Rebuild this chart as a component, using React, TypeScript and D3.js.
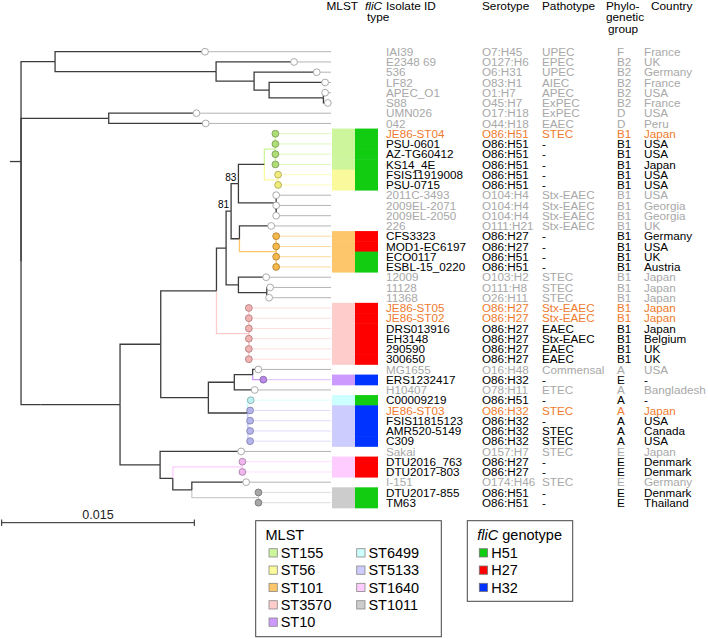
import React from "react";
import * as d3 from "d3";

// ---------- DATA ----------
const isolateIds = [
  "IAI39", "E2348 69", "536", "LF82", "APEC_O1", "S88", "UMN026", "042",
  "JE86-ST04", "PSU-0601", "AZ-TG60412", "KS14_4E", "FSIS11919008", "PSU-0715",
  "2011C-3493", "2009EL-2071", "2009EL-2050", "226",
  "CFS3323", "MOD1-EC6197", "ECO0117", "ESBL-15_0220",
  "12009", "11128", "11368",
  "JE86-ST05", "JE86-ST02", "DRS013916", "EH3148", "290590", "300650",
  "MG1655", "ERS1232417", "H10407", "C00009219", "JE86-ST03", "FSIS11815123",
  "AMR520-5149", "C309", "Sakai", "DTU2016_763", "DTU2017-803", "I-151",
  "DTU2017-855", "TM63",
];
const serotypes = [
  "O7:H45", "O127:H6", "O6:H31", "O83:H1", "O1:H7", "O45:H7", "O17:H18", "O44:H18",
  "O86:H51", "O86:H51", "O86:H51", "O86:H51", "O86:H51", "O86:H51",
  "O104:H4", "O104:H4", "O104:H4", "O111:H21",
  "O86:H27", "O86:H27", "O86:H51", "O86:H51",
  "O103:H2", "O111:H8", "O26:H11",
  "O86:H27", "O86:H27", "O86:H27", "O86:H27", "O86:H27", "O86:H27",
  "O16:H48", "O86:H32", "O78:H11", "O86:H51", "O86:H32", "O86:H32",
  "O86:H32", "O86:H32", "O157:H7", "O86:H27", "O86:H27", "O174:H46",
  "O86:H51", "O86:H51",
];
const pathotypes = [
  "UPEC", "EPEC", "UPEC", "AIEC", "APEC", "ExPEC", "ExPEC", "EAEC",
  "STEC", "-", "-", "-", "-", "-",
  "Stx-EAEC", "Stx-EAEC", "Stx-EAEC", "Stx-EAEC",
  "-", "-", "-", "-",
  "STEC", "STEC", "STEC",
  "Stx-EAEC", "Stx-EAEC", "EAEC", "Stx-EAEC", "EAEC", "EAEC",
  "Commensal", "-", "ETEC", "-", "STEC", "-",
  "STEC", "STEC", "STEC", "-", "-", "STEC",
  "-", "-",
];
const phyloGroups = [
  "F", "B2", "B2", "B2", "B2", "B2", "D", "D",
  "B1", "B1", "B1", "B1", "B1", "B1",
  "B1", "B1", "B1", "B1",
  "B1", "B1", "B1", "B1",
  "B1", "B1", "B1",
  "B1", "B1", "B1", "B1", "B1", "B1",
  "A", "E", "A", "A", "A", "A",
  "A", "A", "E", "E", "E", "E",
  "E", "E",
];
const countries = [
  "France", "UK", "Germany", "France", "USA", "France", "USA", "Peru",
  "Japan", "USA", "USA", "Japan", "USA", "USA",
  "USA", "Georgia", "Georgia", "UK",
  "Germany", "USA", "UK", "Austria",
  "Japan", "Japan", "Japan",
  "Japan", "Japan", "Japan", "Belgium", "UK", "UK",
  "USA", "-", "Bangladesh", "-", "Japan", "USA",
  "Canada", "USA", "Japan", "Denmark", "Denmark", "Germany",
  "Denmark", "Thailand",
];
const mlstTypes = [
  "", "", "", "", "", "", "", "",
  "ST155", "ST155", "ST155", "ST155", "ST56", "ST56",
  "", "", "", "",
  "ST101", "ST101", "ST101", "ST101",
  "", "", "",
  "ST3570", "ST3570", "ST3570", "ST3570", "ST3570", "ST3570",
  "", "ST10", "", "ST6499", "ST5133", "ST5133",
  "ST5133", "ST5133", "", "ST1640", "ST1640", "",
  "ST1011", "ST1011",
];
// ref = reference strain (grey), new = this study (orange), db = database O86 (black)
const rowStatus = [
  "ref", "ref", "ref", "ref", "ref", "ref", "ref", "ref",
  "new", "db", "db", "db", "db", "db",
  "ref", "ref", "ref", "ref",
  "db", "db", "db", "db",
  "ref", "ref", "ref",
  "new", "new", "db", "db", "db", "db",
  "ref", "db", "ref", "db", "new", "db",
  "db", "db", "ref", "db", "db", "ref",
  "db", "db",
];

// Tree (Newick, branch lengths in substitutions/site, internal labels = bootstrap)
const treeNewick =
  "((IAI39:0.01168,(E2348 69:0.00607,(536:0.00488,(LF82:0.00436,(APEC_O1:0.00013,S88:0.00034):0.00423):0.00117):0.00296):0.01254):0.00265," +
  "((UMN026:0.00683,042:0.00755):0.00683," +
  "((" +
  "(((((((JE86-ST04:0,PSU-0601:0,AZ-TG60412:0,KS14_4E:0):0.00086,(FSIS11919008:0,PSU-0715:0):0.00107):0.00202," +
  "(2011C-3493:0,(2009EL-2071:0,2009EL-2050:0):0):0.00294)83:0.00057," +
  "(226:0.00247,(CFS3323:0,MOD1-EC6197:0,ECO0117:0,ESBL-15_0220:0):0.00286):0.00065)81:0.00039," +
  "(12009:0.00216,(11128:0.00026,11368:0.00018):0.00221):0.00096):0.00075," +
  "(JE86-ST05:0,JE86-ST02:0,DRS013916:0,EH3148:0,290590:0,300650:0):0.00252):0.00434," +
  "(((MG1655:0.00044,ERS1232417:0.00083):0.00143,H10407:0.00159):0.00202," +
  "(C00009219:0.00026,(JE86-ST03:0.00017,FSIS11815123:0.00017,AMR520-5149:0.00017,C309:0.00017):0.00004):0.00304):0.00371" +
  "):0.00317," +
  "(Sakai:0.00631,((DTU2016_763:0,DTU2017-803:0):0.00542,(I-151:0.00423,(DTU2017-855:0,TM63:0):0.00519):0.00148):0.00099):0.00312" +
  "):0.00621):0.00150);";
const rootBranch = 0.00086;
const scaleBarValue = 0.015;

const mlstLegend = ["ST155", "ST56", "ST101", "ST3570", "ST10", "ST6499", "ST5133", "ST1640", "ST1011"];
const mlstCellColors = ["#ccf59c", "#fafa9c", "#fdc66a", "#ffcccc", "#cc99ff", "#ccffff", "#ccccff", "#ffccff", "#cccccc"];
const mlstDotColors = ["#aedd78", "#f0ec7a", "#f5b84a", "#f3b3b3", "#b98ae8", "#bdf0f0", "#b6b6ee", "#f0b6ee", "#a6a6a6"];
const fliCLegend = ["H51", "H27", "H32"];
const fliCColors = ["#11cc11", "#ff0000", "#0033ff"];

const headerCols = [
  { lines: ["Isolate ID"], x: 386 },
  { lines: ["Serotype"], x: 482 },
  { lines: ["Pathotype"], x: 542 },
  { lines: ["Phylo-", "genetic", "group"], x: 606 },
  { lines: ["Country"], x: 651 },
];

// ---------- TREE PARSING ----------
type TNode = { name: string; length: number; children?: TNode[] };
function parseNewick(s: string): TNode {
  let i = 0;
  function node(): TNode {
    const n: TNode = { name: "", length: 0 };
    if (s[i] === "(") {
      i++;
      n.children = [];
      for (;;) {
        n.children.push(node());
        if (s[i] === ",") { i++; continue; }
        if (s[i] === ")") { i++; break; }
        break;
      }
    }
    let name = "";
    while (i < s.length && !",():;".includes(s[i])) name += s[i++];
    n.name = name.trim();
    if (s[i] === ":") {
      i++;
      let num = "";
      while (i < s.length && !",();".includes(s[i])) num += s[i++];
      n.length = parseFloat(num);
    }
    return n;
  }
  return node();
}

const FONT = "'Liberation Sans', Arial, Helvetica, sans-serif";
const DARK = "#3c3c3c";
const TXT: Record<string, string> = { ref: "#a8a8a8", new: "#ef7b2e", db: "#000000" };

export default function App() {
  const W = 708, H = 639;
  const xScale = d3.scaleLinear().domain([0, scaleBarValue]).range([10, 202.6]);
  const yScale = d3.scaleLinear().domain([0, isolateIds.length - 1]).range([51.7, 502.7]);
  const step = yScale(1) - yScale(0);
  const tipEnd = 331;
  const colMlst = 332, colFli = 355, colW = 23;

  const mlstIdx = (t: string) => mlstLegend.indexOf(t);

  const root = d3.hierarchy(parseNewick(treeNewick)) as any;
  root.eachBefore((n: any) => {
    n.dist = (n.parent ? n.parent.dist : rootBranch) + n.data.length;
    n.px = xScale(n.dist);
  });
  root.eachAfter((n: any) => {
    if (n.children) {
      n.py = (n.children[0].py + n.children[n.children.length - 1].py) / 2;
      const g = n.children.map((c: any) => c.group);
      n.group = g.every((v: string) => v && v === g[0]) ? g[0] : "";
    } else {
      const idx = isolateIds.indexOf(n.data.name);
      n.row = idx;
      n.py = yScale(idx);
      n.group = mlstTypes[idx];
    }
  });

  const branchColor = (g: string) => (g ? mlstCellColors[mlstIdx(g)] : DARK);
  const nodes = root.descendants();
  const leaves = root.leaves();

  const branches: any[] = [];
  nodes.forEach((n: any) => {
    if (!n.parent) return;
    const p = n.parent;
    branches.push({ key: "v" + branches.length, d: `M${p.px},${p.py}V${n.py}H${n.px}`, color: branchColor(n.group), colored: !!n.group });
  });
  branches.sort((a, b) => (a.colored === b.colored ? 0 : a.colored ? -1 : 1));

  const r = 3.4;
  const legendRowsY = [552.7, 570, 587.3, 604.7, 622];

  return (
    <svg width={W} height={H} style={{ position: "absolute", left: 0, top: 0, background: "#fff" }} fontFamily={FONT}>
      <rect x={0} y={0} width={W} height={H} fill="#fff" />
      {/* headers */}
      <g fontSize={11.8} fill="#000">
        <text x={358} y={9.5} textAnchor="end">MLST</text>
        <text x={365} y={9.5} fontStyle="italic">fliC</text>
        <text x={367} y={21}>type</text>
        {headerCols.map((h) =>
          h.lines.map((l, k) => (
            <text key={h.x + l} x={h.x + (l === "group" ? 2 : 0)} y={9.5 + k * 11.5}>{l}</text>
          ))
        )}
      </g>

      {/* leader lines */}
      {leaders(leaves, r, tipEnd)}

      {/* branches */}
      <path d={`M${xScale(0)},${root.py}H${root.px}`} stroke={DARK} strokeWidth={1.3} fill="none" />
      {branches.map((b) => (
        <path key={b.key} d={b.d} stroke={b.color} strokeWidth={1.3} fill="none" />
      ))}

      {/* bootstrap labels */}
      {nodes.filter((n: any) => n.children && n.data.name).map((n: any, i: number) => (
        <text key={"bs" + i} x={n.px - 2} y={n.py - 3} textAnchor="end" fontSize={10} fill="#000">{n.data.name}</text>
      ))}

      {/* tip circles */}
      {leaves.map((l: any, i: number) => {
        const g = l.group;
        const fill = g ? mlstDotColors[mlstIdx(g)] : "#ffffff";
        const stroke = g ? (d3.color(fill) as any).darker(0.9).formatHex() : "#a0a0a0";
        return <circle key={"c" + i} cx={l.px} cy={l.py} r={r} fill={fill} stroke={stroke} strokeWidth={0.9} />;
      })}

      {/* MLST and fliC cells */}
      {isolateIds.map((id, i) => {
        const m = mlstTypes[i];
        if (!m) return null;
        const h = serotypes[i].split(":")[1];
        const y0 = yScale(i) - step / 2;
        return (
          <g key={"cell" + i}>
            <rect x={colMlst} y={y0} width={colW} height={step + 0.5} fill={mlstCellColors[mlstIdx(m)]} />
            <rect x={colFli} y={y0} width={colW} height={step + 0.5} fill={fliCColors[fliCLegend.indexOf(h)]} />
          </g>
        );
      })}

      {/* table text */}
      <g fontSize={11.7}>
        {isolateIds.map((id, i) => {
          const y = yScale(i) + 4.2;
          const c = TXT[rowStatus[i]];
          return (
            <g key={"t" + i} fill={c}>
              <text x={386} y={y}>{id}</text>
              <text x={482} y={y}>{serotypes[i]}</text>
              <text x={542} y={y}>{pathotypes[i]}</text>
              <text x={617} y={y}>{phyloGroups[i]}</text>
              <text x={644} y={y}>{countries[i]}</text>
            </g>
          );
        })}
      </g>

      {/* scale bar */}
      <g stroke="#222" strokeWidth={1}>
        <line x1={1.7} x2={1.7 + xScale(scaleBarValue) - xScale(0)} y1={522.7} y2={522.7} />
        <line x1={1.7} x2={1.7} y1={519.5} y2={526} />
        <line x1={1.7 + xScale(scaleBarValue) - xScale(0)} x2={1.7 + xScale(scaleBarValue) - xScale(0)} y1={519.5} y2={526} />
      </g>
      <text x={1.7 + (xScale(scaleBarValue) - xScale(0)) / 2} y={519} textAnchor="middle" fontSize={12.5} fill="#222">{scaleBarValue}</text>

      {/* MLST legend */}
      <rect x={255.7} y={520.7} width={185.6} height={116} fill="#fff" stroke="#444" strokeWidth={1} />
      <text x={265.5} y={539.5} fontSize={14.5} fill="#000">MLST</text>
      {mlstLegend.map((m, i) => {
        const col = i < 5 ? 0 : 1;
        const row = i < 5 ? i : i - 5;
        const sx = col === 0 ? 269 : 356.7;
        const cy = legendRowsY[row];
        return (
          <g key={"ml" + m}>
            <rect x={sx} y={cy - 4} width={8.3} height={8.3} fill={mlstCellColors[i]} stroke="#888" strokeWidth={0.8} />
            <text x={sx + 11.7} y={cy + 5.2} fontSize={14.5} fill="#000">{m}</text>
          </g>
        );
      })}

      {/* fliC legend */}
      <rect x={467.3} y={520.7} width={105.4} height={80.6} fill="#fff" stroke="#444" strokeWidth={1} />
      <text x={477.3} y={539.5} fontSize={14.5} fill="#000">
        <tspan fontStyle="italic">fliC</tspan> genotype
      </text>
      {fliCLegend.map((f, i) => {
        const cy = legendRowsY[i];
        return (
          <g key={"fl" + f}>
            <rect x={479.3} y={cy - 4} width={8.3} height={8.3} fill={fliCColors[i]} stroke="#777" strokeWidth={0.8} />
            <text x={491.3} y={cy + 5.2} fontSize={14.5} fill="#000">{f}</text>
          </g>
        );
      })}
    </svg>
  );
}

function leaders(leaves: any[], r: number, tipEnd: number) {
  return leaves.map((l: any, i: number) => {
    const g = l.group;
    const idx = mlstLegend.indexOf(g);
    const color = g ? (d3.interpolateRgb(mlstCellColors[idx], "#ffffff")(0.35) as string) : "#b4b4b4";
    return (
      <line key={"ld" + i} x1={l.px + r} x2={tipEnd} y1={l.py} y2={l.py} stroke={color} strokeWidth={1} />
    );
  });
}
